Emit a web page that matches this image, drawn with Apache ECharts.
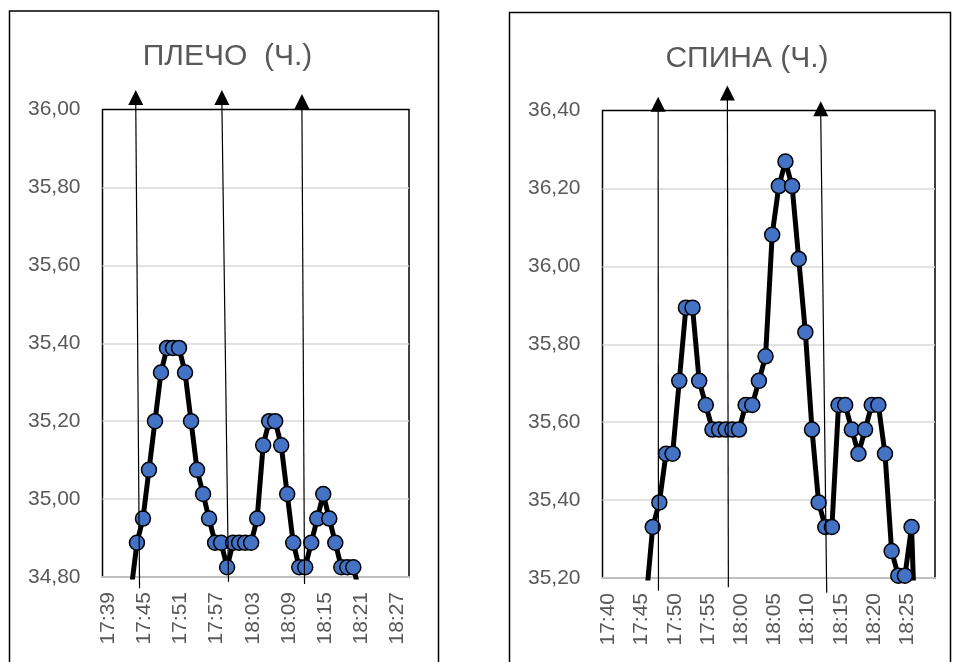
<!DOCTYPE html>
<html>
<head>
<meta charset="utf-8">
<script src="https://cdn.jsdelivr.net/npm/echarts@6/dist/echarts.min.js"></script>
<style>
html, body { margin: 0; padding: 0; background: #ffffff; }
#chart { width: 956px; height: 662px; }
</style>
</head>
<body>
<div id="chart"></div>
<script>
// Skin temperature readings, one per minute
const shoulderTitle = 'ПЛЕЧО  (Ч.)';
const backTitle = 'СПИНА (Ч.)';

const shoulderTimes = [
  '17:42:44', '17:43:44', '17:44:44', '17:45:44', '17:46:44', '17:47:44', '17:48:44', '17:49:44',
  '17:50:44', '17:51:44', '17:52:44', '17:53:44', '17:54:44', '17:55:44', '17:56:44', '17:57:44',
  '17:58:44', '17:59:44', '18:00:44', '18:01:44', '18:02:44', '18:03:44', '18:04:44', '18:05:44',
  '18:06:44', '18:07:44', '18:08:44', '18:09:44', '18:10:44', '18:11:44', '18:12:44', '18:13:44',
  '18:14:44', '18:15:44', '18:16:44', '18:17:44', '18:18:44', '18:19:44', '18:20:44'
];
const shoulderTemps = [
  34.763, 34.888, 34.950, 35.075, 35.200, 35.325, 35.388, 35.388,
  35.388, 35.325, 35.200, 35.075, 35.013, 34.950, 34.888, 34.888,
  34.825, 34.888, 34.888, 34.888, 34.888, 34.950, 35.138, 35.200,
  35.200, 35.138, 35.013, 34.888, 34.825, 34.825, 34.888, 34.950,
  35.013, 34.950, 34.888, 34.825, 34.825, 34.825, 34.763
];

const backTimes = [
  '17:45:40', '17:46:40', '17:47:40', '17:48:40', '17:49:40', '17:50:40', '17:51:40', '17:52:40',
  '17:53:40', '17:54:40', '17:55:40', '17:56:40', '17:57:40', '17:58:40', '17:59:40', '18:00:40',
  '18:01:40', '18:02:40', '18:03:40', '18:04:40', '18:05:40', '18:06:40', '18:07:40', '18:08:40',
  '18:09:40', '18:10:40', '18:11:40', '18:12:40', '18:13:40', '18:14:40', '18:15:40', '18:16:40',
  '18:17:40', '18:18:40', '18:19:40', '18:20:40', '18:21:40', '18:22:40', '18:23:40', '18:24:40',
  '18:25:40', '18:26:40'
];
const backTemps = [
  35.144, 35.331, 35.394, 35.519, 35.519, 35.706, 35.894, 35.894,
  35.706, 35.644, 35.581, 35.581, 35.581, 35.581, 35.581, 35.644,
  35.644, 35.706, 35.769, 36.081, 36.206, 36.269, 36.206, 36.019,
  35.831, 35.581, 35.394, 35.331, 35.331, 35.644, 35.644, 35.581,
  35.519, 35.581, 35.644, 35.644, 35.519, 35.269, 35.206, 35.206,
  35.331, 34.831
];

const shoulderTickLabels = ['17:39', '17:45', '17:51', '17:57', '18:03', '18:09', '18:15', '18:21', '18:27'];
const backTickLabels = ['17:40', '17:45', '17:50', '17:55', '18:00', '18:05', '18:10', '18:15', '18:20', '18:25'];

// Hand-drawn event arrows: [time, temperature] at the tail and at the tip
const shoulderArrows = [
  [['17:44:10', 34.771], ['17:43:32', 36.05]],
  [['17:58:58', 34.788], ['17:57:52', 36.05]],
  [['18:11:37', 34.782], ['18:11:11', 36.04]]
];
const backArrows = [
  [['17:47:32', 35.167], ['17:47:29', 36.435]],
  [['17:58:04', 35.176], ['17:57:55', 36.464]],
  [['18:12:53', 35.162], ['18:11:59', 36.424]]
];

function toMin(s) {
  const p = s.split(':').map(Number);
  return p[0] * 60 + p[1] + (p[2] || 0) / 60;
}
function fmtTime(v) {
  const m = Math.round(v);
  const h = Math.floor(m / 60);
  const mm = m % 60;
  return h + ':' + (mm < 10 ? '0' : '') + mm;
}
function fmtTemp(v) {
  return v.toFixed(2).replace('.', ',');
}

const FONT = '"Liberation Sans", Arial, sans-serif';
const TEXT = '#595959';
const GRID = '#d9d9d9';

function xAxisFor(gridIndex, min, max, ticks) {
  const vals = ticks.map(toMin);
  return {
    type: 'value', gridIndex, min, max,
    axisLine: { show: true, lineStyle: { color: '#bfbfbf', width: 2 } },
    axisTick: { show: false, customValues: vals },
    splitLine: { show: false },
    axisLabel: {
      customValues: vals, rotate: 90, margin: 15,
      color: TEXT, fontFamily: FONT, fontSize: 21,
      formatter: fmtTime
    }
  };
}
function yAxisFor(gridIndex, min, max) {
  return {
    type: 'value', gridIndex, min, max, interval: 0.2,
    axisLine: { show: false }, axisTick: { show: false },
    splitLine: { show: true, showMinLine: false, showMaxLine: false, lineStyle: { color: GRID, width: 1.5 } },
    axisLabel: { margin: 22, color: TEXT, fontFamily: FONT, fontSize: 21, formatter: fmtTemp }
  };
}
function seriesFor(idx, times, temps) {
  return {
    type: 'line', xAxisIndex: idx, yAxisIndex: idx,
    data: times.map((t, i) => [toMin(t), temps[i]]),
    clip: true, showAllSymbol: true,
    symbol: 'circle', symbolSize: 15,
    lineStyle: { color: '#000000', width: 5 },
    itemStyle: { color: '#4472C4', borderColor: '#000000', borderWidth: 1.5 },
    emphasis: { disabled: true }
  };
}

const chart = echarts.init(document.getElementById('chart'), null, { renderer: 'canvas' });
chart.setOption({
  animation: false,
  backgroundColor: '#ffffff',
  grid: [
    { left: 102.5, top: 109.5, width: 306.5, height: 467.5, show: true, borderColor: '#000000', borderWidth: 1.5 },
    { left: 602.5, top: 110.5, width: 332.5, height: 467.5, show: true, borderColor: '#000000', borderWidth: 1.5 }
  ],
  xAxis: [
    xAxisFor(0, toMin('17:38'), toMin('18:29'), shoulderTickLabels),
    xAxisFor(1, toMin('17:39:06'), toMin('18:29:12'), backTickLabels)
  ],
  yAxis: [
    yAxisFor(0, 34.8, 36.0),
    yAxisFor(1, 35.2, 36.4)
  ],
  series: [
    seriesFor(0, shoulderTimes, shoulderTemps),
    seriesFor(1, backTimes, backTemps)
  ]
});

// Panel frames, titles and the event arrows
const graphics = [
  { type: 'rect', shape: { x: 9.5, y: 11, width: 429, height: 700 }, style: { fill: null, stroke: '#000', lineWidth: 1.5 }, z: 1 },
  { type: 'rect', shape: { x: 509.5, y: 12.5, width: 441, height: 700 }, style: { fill: null, stroke: '#000', lineWidth: 1.5 }, z: 1 },
  { type: 'text', x: 227.5, y: 57, style: { text: shoulderTitle, fill: TEXT, font: '30px ' + FONT, textAlign: 'center', textVerticalAlign: 'middle' }, z: 10 },
  { type: 'text', x: 747, y: 59, style: { text: backTitle, fill: TEXT, font: '30px ' + FONT, textAlign: 'center', textVerticalAlign: 'middle' }, z: 10 }
];
function addArrows(list, idx) {
  list.forEach(a => {
    const p0 = chart.convertToPixel({ xAxisIndex: idx, yAxisIndex: idx }, [toMin(a[0][0]), a[0][1]]);
    const p1 = chart.convertToPixel({ xAxisIndex: idx, yAxisIndex: idx }, [toMin(a[1][0]), a[1][1]]);
    const head = 15, half = 7.5;
    graphics.push({
      type: 'line', z: 20,
      shape: { x1: p0[0], y1: p0[1], x2: p1[0], y2: p1[1] + head - 1 },
      style: { stroke: '#000', lineWidth: 1.2 }
    });
    graphics.push({
      type: 'polygon', z: 20,
      shape: { points: [[p1[0], p1[1]], [p1[0] - half, p1[1] + head], [p1[0] + half, p1[1] + head]] },
      style: { fill: '#000' }
    });
  });
}
addArrows(shoulderArrows, 0);
addArrows(backArrows, 1);
chart.setOption({ graphic: graphics });
</script>
</body>
</html>
